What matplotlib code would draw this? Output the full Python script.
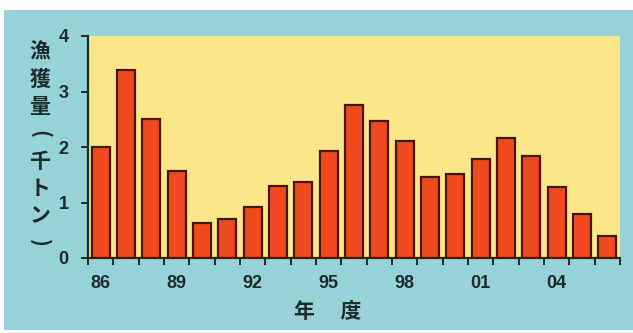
import matplotlib.pyplot as plt
from matplotlib.patches import Rectangle
import numpy as np

plt.rcParams['font.family'] = ['Noto Sans CJK JP', 'DejaVu Sans']

# 年度別の漁獲量（千トン）
nendo = ["86", "87", "88", "89", "90", "91", "92", "93", "94", "95", "96",
         "97", "98", "99", "00", "01", "02", "03", "04", "05", "06"]
gyokaku = [2.0, 3.38, 2.51, 1.56, 0.63, 0.70, 0.92, 1.30, 1.37, 1.92, 2.75,
           2.46, 2.10, 1.46, 1.52, 1.79, 2.17, 1.84, 1.28, 0.80, 0.40]
ticks_y = [0, 1, 2, 3, 4]
ticks_nendo = ["86", "89", "92", "95", "98", "01", "04"]
titre_y = "漁獲量（千トン）"

fond = "#96d2d6"
jaune = "#fbe68a"
rouge = "#ee4a1e"
bord = "#4a1408"
encre = "#1e2b2b"

fig = plt.figure(figsize=(6.33, 3.33), dpi=100, facecolor="white")
fig.patches.append(Rectangle((4 / 633, 3 / 333), 629 / 633, 320 / 333,
                             transform=fig.transFigure, facecolor=fond,
                             edgecolor="none", zorder=-10))

ax = fig.add_axes([88 / 633, 1 - 258 / 333, 532 / 633, 222 / 333])
ax.set_zorder(2)
ax.set_facecolor(jaune)

x = np.arange(len(nendo))
ax.bar(x, gyokaku, width=0.72, color=rouge, edgecolor=bord, linewidth=1.6,
       zorder=3)

ax.set_xlim(-0.5, len(nendo) - 0.5)
ax.set_ylim(0, 4)
for s in ["top", "right"]:
    ax.spines[s].set_visible(False)
for s in ["left", "bottom"]:
    ax.spines[s].set_color(encre)
    ax.spines[s].set_linewidth(1.6)

ax.set_yticks(ticks_y)
ax.set_yticklabels([str(v) for v in ticks_y], fontsize=13, fontweight="bold",
                   color=encre, family="Liberation Sans")
ax.tick_params(axis="y", length=5, width=1.4, color=encre, pad=9)

# 目盛りは年度の境目、ラベルは3年おき
ax.set_xticks(np.arange(len(nendo) + 1) - 0.5)
ax.set_xticklabels([])
ax.tick_params(axis="x", length=5, width=1.4, color=encre)
for lab in ticks_nendo:
    i = nendo.index(lab)
    ax.text(i, -0.3, lab, ha="center", va="top", fontsize=13,
            fontweight="bold", color=encre, family="Liberation Sans",
            clip_on=False)

# 縦書きの軸タイトル（括弧は横に寝かせる）
for k, ch in enumerate(titre_y):
    yy = 1 - (52 + 27.3 * k) / 333
    rot = 0
    if ch in "（）":
        ch = "(" if ch == "（" else ")"
        rot = -90
    fig.text(40 / 633, yy, ch, ha="center", va="center", rotation=rot,
             fontsize=15, fontweight="bold", color=encre)

fig.text(328 / 633, 1 - 312 / 333, "年　 度", ha="center", va="center",
         fontsize=15, fontweight="bold", color=encre)

fig.savefig("out.png", dpi=100, facecolor=fig.get_facecolor())
